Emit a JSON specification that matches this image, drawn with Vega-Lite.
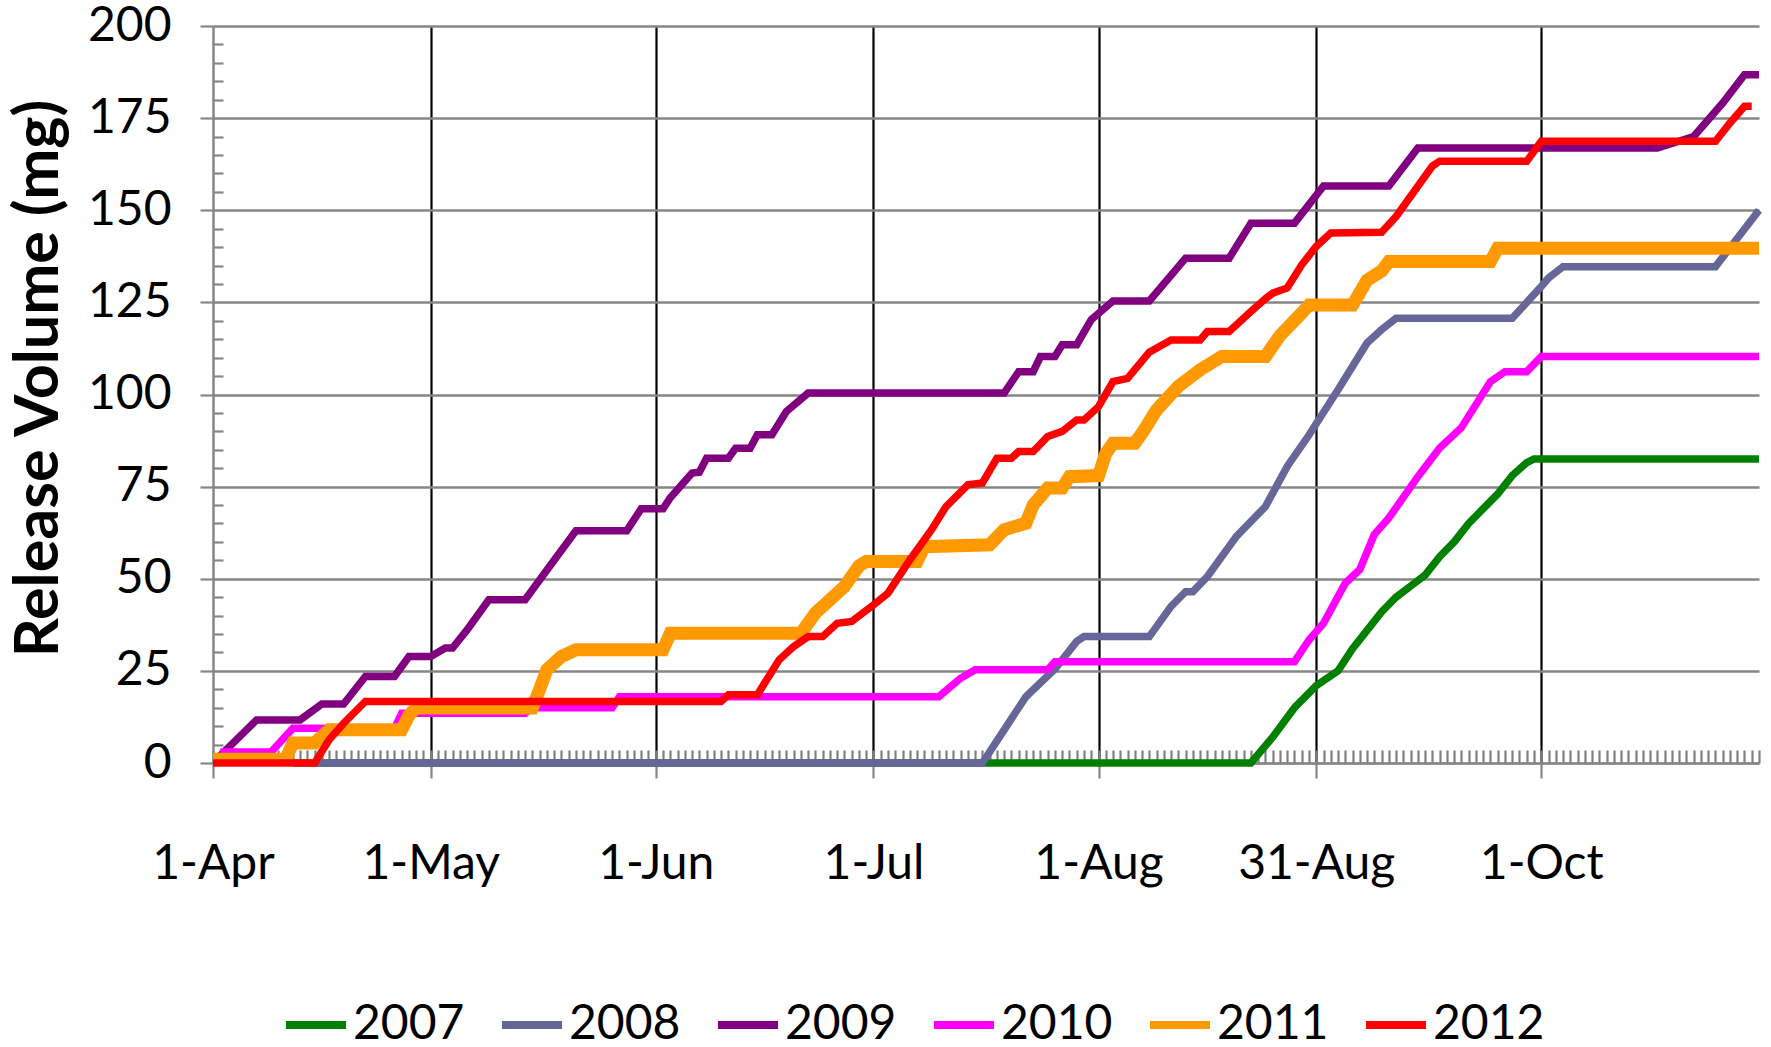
{
  "$schema": "https://vega.github.io/schema/vega-lite/v6.json",
  "width": 1546,
  "height": 737,
  "autosize": "none",
  "padding": {"left": 213, "top": 26, "right": 12, "bottom": 284},
  "background": "white",
  "config": {"view": {"stroke": null}, "font": "Lato"},
  "data": {"values": [
    {"series": "2007", "date": "2000-04-12", "mg": 0},
    {"series": "2007", "date": "2000-08-22", "mg": 0},
    {"series": "2007", "date": "2000-08-25", "mg": 7},
    {"series": "2007", "date": "2000-08-28", "mg": 15},
    {"series": "2007", "date": "2000-08-31", "mg": 21},
    {"series": "2007", "date": "2000-09-03", "mg": 25},
    {"series": "2007", "date": "2000-09-05", "mg": 31},
    {"series": "2007", "date": "2000-09-07", "mg": 36},
    {"series": "2007", "date": "2000-09-09", "mg": 41},
    {"series": "2007", "date": "2000-09-11", "mg": 45},
    {"series": "2007", "date": "2000-09-13", "mg": 48},
    {"series": "2007", "date": "2000-09-15", "mg": 51},
    {"series": "2007", "date": "2000-09-17", "mg": 56},
    {"series": "2007", "date": "2000-09-19", "mg": 60},
    {"series": "2007", "date": "2000-09-21", "mg": 65},
    {"series": "2007", "date": "2000-09-23", "mg": 69},
    {"series": "2007", "date": "2000-09-25", "mg": 73},
    {"series": "2007", "date": "2000-09-27", "mg": 78},
    {"series": "2007", "date": "2000-09-29", "mg": 81.5},
    {"series": "2007", "date": "2000-09-30", "mg": 82.5},
    {"series": "2007", "date": "2000-10-31", "mg": 82.5},

    {"series": "2008", "date": "2000-04-15", "mg": 0},
    {"series": "2008", "date": "2000-07-16", "mg": 0},
    {"series": "2008", "date": "2000-07-19", "mg": 9},
    {"series": "2008", "date": "2000-07-22", "mg": 18},
    {"series": "2008", "date": "2000-07-26", "mg": 25.5},
    {"series": "2008", "date": "2000-07-29", "mg": 33},
    {"series": "2008", "date": "2000-07-30", "mg": 34.3},
    {"series": "2008", "date": "2000-08-08", "mg": 34.3},
    {"series": "2008", "date": "2000-08-11", "mg": 42.5},
    {"series": "2008", "date": "2000-08-13", "mg": 46.5},
    {"series": "2008", "date": "2000-08-14", "mg": 46.5},
    {"series": "2008", "date": "2000-08-16", "mg": 50.6},
    {"series": "2008", "date": "2000-08-20", "mg": 61.5},
    {"series": "2008", "date": "2000-08-24", "mg": 69.6},
    {"series": "2008", "date": "2000-08-27", "mg": 80.5},
    {"series": "2008", "date": "2000-08-30", "mg": 89},
    {"series": "2008", "date": "2000-09-03", "mg": 101.3},
    {"series": "2008", "date": "2000-09-07", "mg": 114},
    {"series": "2008", "date": "2000-09-09", "mg": 117.6},
    {"series": "2008", "date": "2000-09-11", "mg": 120.7},
    {"series": "2008", "date": "2000-09-27", "mg": 120.7},
    {"series": "2008", "date": "2000-10-01", "mg": 129.3},
    {"series": "2008", "date": "2000-10-02", "mg": 131.6},
    {"series": "2008", "date": "2000-10-04", "mg": 134.7},
    {"series": "2008", "date": "2000-10-25", "mg": 134.7},
    {"series": "2008", "date": "2000-10-31", "mg": 150},

    {"series": "2009", "date": "2000-04-02", "mg": 2},
    {"series": "2009", "date": "2000-04-07", "mg": 11.7},
    {"series": "2009", "date": "2000-04-13", "mg": 11.7},
    {"series": "2009", "date": "2000-04-16", "mg": 16},
    {"series": "2009", "date": "2000-04-19", "mg": 16},
    {"series": "2009", "date": "2000-04-22", "mg": 23.5},
    {"series": "2009", "date": "2000-04-26", "mg": 23.5},
    {"series": "2009", "date": "2000-04-28", "mg": 28.9},
    {"series": "2009", "date": "2000-05-01", "mg": 28.9},
    {"series": "2009", "date": "2000-05-03", "mg": 31.2},
    {"series": "2009", "date": "2000-05-04", "mg": 31.2},
    {"series": "2009", "date": "2000-05-06", "mg": 36.1},
    {"series": "2009", "date": "2000-05-09", "mg": 44.3},
    {"series": "2009", "date": "2000-05-14", "mg": 44.3},
    {"series": "2009", "date": "2000-05-18", "mg": 55},
    {"series": "2009", "date": "2000-05-21", "mg": 63},
    {"series": "2009", "date": "2000-05-28", "mg": 63},
    {"series": "2009", "date": "2000-05-30", "mg": 69},
    {"series": "2009", "date": "2000-06-02", "mg": 69},
    {"series": "2009", "date": "2000-06-03", "mg": 72},
    {"series": "2009", "date": "2000-06-06", "mg": 78.7},
    {"series": "2009", "date": "2000-06-07", "mg": 78.9},
    {"series": "2009", "date": "2000-06-08", "mg": 82.7},
    {"series": "2009", "date": "2000-06-11", "mg": 82.7},
    {"series": "2009", "date": "2000-06-12", "mg": 85.4},
    {"series": "2009", "date": "2000-06-14", "mg": 85.4},
    {"series": "2009", "date": "2000-06-15", "mg": 89.1},
    {"series": "2009", "date": "2000-06-17", "mg": 89.1},
    {"series": "2009", "date": "2000-06-19", "mg": 95.4},
    {"series": "2009", "date": "2000-06-22", "mg": 100.4},
    {"series": "2009", "date": "2000-07-19", "mg": 100.4},
    {"series": "2009", "date": "2000-07-21", "mg": 106.2},
    {"series": "2009", "date": "2000-07-23", "mg": 106.2},
    {"series": "2009", "date": "2000-07-24", "mg": 110.3},
    {"series": "2009", "date": "2000-07-26", "mg": 110.3},
    {"series": "2009", "date": "2000-07-27", "mg": 113.5},
    {"series": "2009", "date": "2000-07-29", "mg": 113.5},
    {"series": "2009", "date": "2000-07-31", "mg": 120.3},
    {"series": "2009", "date": "2000-08-03", "mg": 125.4},
    {"series": "2009", "date": "2000-08-08", "mg": 125.4},
    {"series": "2009", "date": "2000-08-13", "mg": 137},
    {"series": "2009", "date": "2000-08-19", "mg": 137},
    {"series": "2009", "date": "2000-08-22", "mg": 146.5},
    {"series": "2009", "date": "2000-08-28", "mg": 146.5},
    {"series": "2009", "date": "2000-09-01", "mg": 156.6},
    {"series": "2009", "date": "2000-09-10", "mg": 156.6},
    {"series": "2009", "date": "2000-09-14", "mg": 166.9},
    {"series": "2009", "date": "2000-10-17", "mg": 166.9},
    {"series": "2009", "date": "2000-10-22", "mg": 170},
    {"series": "2009", "date": "2000-10-26", "mg": 179.1},
    {"series": "2009", "date": "2000-10-29", "mg": 186.8},
    {"series": "2009", "date": "2000-10-31", "mg": 186.8},

    {"series": "2010", "date": "2000-04-02", "mg": 3},
    {"series": "2010", "date": "2000-04-09", "mg": 3},
    {"series": "2010", "date": "2000-04-12", "mg": 9.4},
    {"series": "2010", "date": "2000-04-26", "mg": 9.4},
    {"series": "2010", "date": "2000-04-27", "mg": 13.5},
    {"series": "2010", "date": "2000-05-14", "mg": 13.5},
    {"series": "2010", "date": "2000-05-15", "mg": 15},
    {"series": "2010", "date": "2000-05-26", "mg": 15},
    {"series": "2010", "date": "2000-05-27", "mg": 18},
    {"series": "2010", "date": "2000-07-10", "mg": 18},
    {"series": "2010", "date": "2000-07-13", "mg": 23},
    {"series": "2010", "date": "2000-07-15", "mg": 25.3},
    {"series": "2010", "date": "2000-07-25", "mg": 25.3},
    {"series": "2010", "date": "2000-07-26", "mg": 27.5},
    {"series": "2010", "date": "2000-08-28", "mg": 27.5},
    {"series": "2010", "date": "2000-08-30", "mg": 33.4},
    {"series": "2010", "date": "2000-09-01", "mg": 37.9},
    {"series": "2010", "date": "2000-09-04", "mg": 48.8},
    {"series": "2010", "date": "2000-09-06", "mg": 52.5},
    {"series": "2010", "date": "2000-09-08", "mg": 62},
    {"series": "2010", "date": "2000-09-10", "mg": 66.5},
    {"series": "2010", "date": "2000-09-14", "mg": 77.7},
    {"series": "2010", "date": "2000-09-17", "mg": 85.5},
    {"series": "2010", "date": "2000-09-20", "mg": 91},
    {"series": "2010", "date": "2000-09-24", "mg": 103.5},
    {"series": "2010", "date": "2000-09-26", "mg": 106.2},
    {"series": "2010", "date": "2000-09-29", "mg": 106.2},
    {"series": "2010", "date": "2000-10-01", "mg": 110.3},
    {"series": "2010", "date": "2000-10-31", "mg": 110.3},

    {"series": "2011", "date": "2000-04-01", "mg": 1},
    {"series": "2011", "date": "2000-04-11", "mg": 1},
    {"series": "2011", "date": "2000-04-12", "mg": 5.4},
    {"series": "2011", "date": "2000-04-15", "mg": 5.4},
    {"series": "2011", "date": "2000-04-17", "mg": 9},
    {"series": "2011", "date": "2000-04-27", "mg": 9},
    {"series": "2011", "date": "2000-04-28", "mg": 13},
    {"series": "2011", "date": "2000-04-29", "mg": 14.9},
    {"series": "2011", "date": "2000-05-15", "mg": 14.9},
    {"series": "2011", "date": "2000-05-16", "mg": 20},
    {"series": "2011", "date": "2000-05-17", "mg": 25.3},
    {"series": "2011", "date": "2000-05-19", "mg": 28.9},
    {"series": "2011", "date": "2000-05-21", "mg": 30.7},
    {"series": "2011", "date": "2000-06-02", "mg": 30.7},
    {"series": "2011", "date": "2000-06-03", "mg": 35.2},
    {"series": "2011", "date": "2000-06-21", "mg": 35.2},
    {"series": "2011", "date": "2000-06-23", "mg": 40.7},
    {"series": "2011", "date": "2000-06-25", "mg": 44.3},
    {"series": "2011", "date": "2000-06-27", "mg": 47.9},
    {"series": "2011", "date": "2000-06-29", "mg": 53.5},
    {"series": "2011", "date": "2000-06-30", "mg": 54.7},
    {"series": "2011", "date": "2000-07-07", "mg": 54.7},
    {"series": "2011", "date": "2000-07-08", "mg": 58.7},
    {"series": "2011", "date": "2000-07-17", "mg": 59.2},
    {"series": "2011", "date": "2000-07-19", "mg": 63.3},
    {"series": "2011", "date": "2000-07-22", "mg": 65.1},
    {"series": "2011", "date": "2000-07-23", "mg": 70},
    {"series": "2011", "date": "2000-07-25", "mg": 74.6},
    {"series": "2011", "date": "2000-07-27", "mg": 74.6},
    {"series": "2011", "date": "2000-07-28", "mg": 77.7},
    {"series": "2011", "date": "2000-08-01", "mg": 78},
    {"series": "2011", "date": "2000-08-02", "mg": 84},
    {"series": "2011", "date": "2000-08-03", "mg": 86.8},
    {"series": "2011", "date": "2000-08-06", "mg": 86.8},
    {"series": "2011", "date": "2000-08-07", "mg": 89.5},
    {"series": "2011", "date": "2000-08-09", "mg": 95.8},
    {"series": "2011", "date": "2000-08-12", "mg": 102.2},
    {"series": "2011", "date": "2000-08-15", "mg": 106.7},
    {"series": "2011", "date": "2000-08-18", "mg": 110.3},
    {"series": "2011", "date": "2000-08-24", "mg": 110.3},
    {"series": "2011", "date": "2000-08-26", "mg": 116},
    {"series": "2011", "date": "2000-08-29", "mg": 122.1},
    {"series": "2011", "date": "2000-08-30", "mg": 124.3},
    {"series": "2011", "date": "2000-09-05", "mg": 124.3},
    {"series": "2011", "date": "2000-09-07", "mg": 131},
    {"series": "2011", "date": "2000-09-09", "mg": 133.5},
    {"series": "2011", "date": "2000-09-10", "mg": 136.1},
    {"series": "2011", "date": "2000-09-24", "mg": 136.1},
    {"series": "2011", "date": "2000-09-25", "mg": 139.7},
    {"series": "2011", "date": "2000-10-31", "mg": 139.7},

    {"series": "2012", "date": "2000-04-01", "mg": 0},
    {"series": "2012", "date": "2000-04-15", "mg": 0},
    {"series": "2012", "date": "2000-04-17", "mg": 6.3},
    {"series": "2012", "date": "2000-04-19", "mg": 10.8},
    {"series": "2012", "date": "2000-04-22", "mg": 16.7},
    {"series": "2012", "date": "2000-06-10", "mg": 16.7},
    {"series": "2012", "date": "2000-06-11", "mg": 18.5},
    {"series": "2012", "date": "2000-06-15", "mg": 18.5},
    {"series": "2012", "date": "2000-06-18", "mg": 28},
    {"series": "2012", "date": "2000-06-20", "mg": 31.6},
    {"series": "2012", "date": "2000-06-22", "mg": 34.3},
    {"series": "2012", "date": "2000-06-24", "mg": 34.3},
    {"series": "2012", "date": "2000-06-26", "mg": 37.9},
    {"series": "2012", "date": "2000-06-28", "mg": 38.4},
    {"series": "2012", "date": "2000-07-01", "mg": 42.9},
    {"series": "2012", "date": "2000-07-03", "mg": 46.1},
    {"series": "2012", "date": "2000-07-06", "mg": 55.1},
    {"series": "2012", "date": "2000-07-09", "mg": 63.3},
    {"series": "2012", "date": "2000-07-11", "mg": 69.6},
    {"series": "2012", "date": "2000-07-14", "mg": 75.5},
    {"series": "2012", "date": "2000-07-16", "mg": 76},
    {"series": "2012", "date": "2000-07-18", "mg": 82.7},
    {"series": "2012", "date": "2000-07-20", "mg": 82.7},
    {"series": "2012", "date": "2000-07-21", "mg": 84.5},
    {"series": "2012", "date": "2000-07-23", "mg": 84.5},
    {"series": "2012", "date": "2000-07-25", "mg": 88.6},
    {"series": "2012", "date": "2000-07-27", "mg": 90},
    {"series": "2012", "date": "2000-07-29", "mg": 93.1},
    {"series": "2012", "date": "2000-07-30", "mg": 93.1},
    {"series": "2012", "date": "2000-08-01", "mg": 96.7},
    {"series": "2012", "date": "2000-08-03", "mg": 103.5},
    {"series": "2012", "date": "2000-08-05", "mg": 104.4},
    {"series": "2012", "date": "2000-08-08", "mg": 111.5},
    {"series": "2012", "date": "2000-08-11", "mg": 114.8},
    {"series": "2012", "date": "2000-08-15", "mg": 114.8},
    {"series": "2012", "date": "2000-08-16", "mg": 117.1},
    {"series": "2012", "date": "2000-08-19", "mg": 117.1},
    {"series": "2012", "date": "2000-08-22", "mg": 122.5},
    {"series": "2012", "date": "2000-08-24", "mg": 126},
    {"series": "2012", "date": "2000-08-25", "mg": 127.5},
    {"series": "2012", "date": "2000-08-27", "mg": 128.9},
    {"series": "2012", "date": "2000-08-29", "mg": 135.2},
    {"series": "2012", "date": "2000-08-31", "mg": 140.2},
    {"series": "2012", "date": "2000-09-02", "mg": 143.8},
    {"series": "2012", "date": "2000-09-09", "mg": 144},
    {"series": "2012", "date": "2000-09-11", "mg": 148.3},
    {"series": "2012", "date": "2000-09-14", "mg": 156.5},
    {"series": "2012", "date": "2000-09-16", "mg": 162},
    {"series": "2012", "date": "2000-09-17", "mg": 163.3},
    {"series": "2012", "date": "2000-09-29", "mg": 163.3},
    {"series": "2012", "date": "2000-10-01", "mg": 168.7},
    {"series": "2012", "date": "2000-10-25", "mg": 168.7},
    {"series": "2012", "date": "2000-10-27", "mg": 173.7},
    {"series": "2012", "date": "2000-10-29", "mg": 178.2},
    {"series": "2012", "date": "2000-10-30", "mg": 178.2}
  ]},
  "resolve": {"axis": {"x": "independent", "y": "independent"}},
  "layer": [
    {
      "mark": {"type": "line", "opacity": 0},
      "encoding": {
        "x": {
          "field": "date", "type": "temporal",
          "scale": {"type": "utc", "domain": [{"year": 2000, "month": 4, "date": 1, "utc": true}, {"year": 2000, "month": 10, "date": 31, "utc": true}], "nice": false},
          "axis": {
            "orient": "bottom", "title": null,
            "values": [
              {"year": 2000, "month": 5, "date": 1, "utc": true},
              {"year": 2000, "month": 6, "date": 1, "utc": true},
              {"year": 2000, "month": 7, "date": 1, "utc": true},
              {"year": 2000, "month": 8, "date": 1, "utc": true},
              {"year": 2000, "month": 8, "date": 31, "utc": true},
              {"year": 2000, "month": 10, "date": 1, "utc": true}
            ],
            "grid": true, "gridColor": "#000000", "gridWidth": 2.2, "gridOpacity": 1,
            "ticks": false, "labels": false, "domain": false
          }
        },
        "y": {
          "field": "mg", "type": "quantitative",
          "scale": {"domain": [0, 200], "nice": false},
          "axis": {
            "orient": "left", "title": null,
            "values": [5, 10, 15, 20, 30, 35, 40, 45, 55, 60, 65, 70, 80, 85, 90, 95, 105, 110, 115, 120, 130, 135, 140, 145, 155, 160, 165, 170, 180, 185, 190, 195],
            "ticks": true, "tickSize": -10, "tickColor": "#868686", "tickWidth": 2.2,
            "labels": false, "domain": false, "grid": false
          }
        }
      }
    },
    {
      "mark": {"type": "line", "opacity": 0},
      "encoding": {
        "x": {
          "field": "date", "type": "temporal",
          "scale": {"type": "utc", "domain": [{"year": 2000, "month": 4, "date": 1, "utc": true}, {"year": 2000, "month": 10, "date": 31, "utc": true}], "nice": false},
          "axis": {
            "orient": "bottom", "title": null,
            "tickCount": {"interval": "day", "step": 1},
            "ticks": true, "tickSize": -13, "tickColor": "#808080", "tickWidth": 2.2,
            "labels": false, "domain": false, "grid": false
          }
        },
        "y": {
          "field": "mg", "type": "quantitative",
          "scale": {"domain": [0, 200], "nice": false},
          "axis": null
        }
      }
    },
    {
      "mark": {"type": "line"},
      "encoding": {
        "x": {
          "field": "date", "type": "temporal",
          "scale": {"type": "utc", "domain": [{"year": 2000, "month": 4, "date": 1, "utc": true}, {"year": 2000, "month": 10, "date": 31, "utc": true}], "nice": false},
          "axis": {
            "orient": "bottom", "title": null,
            "values": [
              {"year": 2000, "month": 4, "date": 1, "utc": true},
              {"year": 2000, "month": 5, "date": 1, "utc": true},
              {"year": 2000, "month": 6, "date": 1, "utc": true},
              {"year": 2000, "month": 7, "date": 1, "utc": true},
              {"year": 2000, "month": 8, "date": 1, "utc": true},
              {"year": 2000, "month": 8, "date": 31, "utc": true},
              {"year": 2000, "month": 10, "date": 1, "utc": true}
            ],
            "labelExpr": "utcFormat(datum.value, '%-d-%b')",
            "labelFont": "Lato", "labelFontSize": 48, "labelColor": "#000000",
            "labelPadding": 62, "labelFlush": false, "labelOverlap": false,
            "ticks": true, "tickSize": 15, "tickColor": "#868686", "tickWidth": 2.2,
            "domain": true, "domainColor": "#868686", "domainWidth": 2.2,
            "grid": false
          }
        },
        "y": {
          "field": "mg", "type": "quantitative",
          "scale": {"domain": [0, 200], "nice": false},
          "axis": {
            "orient": "left",
            "title": "Release Volume (mg)",
            "titleFont": "Lato", "titleFontSize": 61, "titleFontWeight": "bold", "titleColor": "#000000",
            "titleAngle": 270, "titleAlign": "center", "titleBaseline": "middle",
            "titleX": -174, "titleY": 352,
            "values": [0, 25, 50, 75, 100, 125, 150, 175, 200],
            "labelFont": "Lato", "labelFontSize": 48, "labelColor": "#000000", "labelPadding": 29,
            "ticks": true, "tickSize": 13, "tickColor": "#868686", "tickWidth": 2.2,
            "domain": true, "domainColor": "#868686", "domainWidth": 2.5,
            "grid": true, "gridColor": "#868686", "gridWidth": 2.4, "gridOpacity": 1
          }
        },
        "color": {
          "field": "series", "type": "nominal",
          "scale": {"domain": ["2007", "2008", "2009", "2010", "2011", "2012"], "range": ["#008000", "#666699", "#800080", "#FF00FF", "#FF9900", "#FF0000"]},
          "legend": {
            "orient": "none", "legendX": 69, "legendY": 965,
            "direction": "horizontal", "columns": 6, "title": null,
            "symbolType": "stroke", "symbolSize": 3600, "symbolStrokeWidth": 8,
            "labelFont": "Lato", "labelFontSize": 48, "labelColor": "#000000",
            "labelOffset": 3, "columnPadding": 21, "padding": 0, "labelLimit": 0
          }
        },
        "strokeWidth": {
          "condition": {"test": "datum.series === '2011'", "value": 13},
          "value": 7.5
        }
      }
    }
  ]
}
